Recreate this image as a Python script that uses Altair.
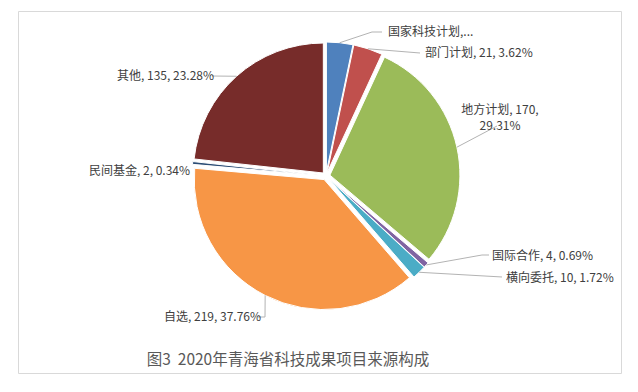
import altair as alt
import pandas as pd

# ---- data ----
categories = ["国家科技计划", "部门计划", "地方计划", "国际合作", "横向委托", "自选", "民间基金", "其他"]
values = [19, 21, 170, 4, 10, 219, 2, 135]
colors = ["#4F81BD", "#C0504D", "#9BBB59", "#8064A2", "#4BACC6", "#F79646", "#2C4D75", "#772C2A"]
title_text = "图3\u00a0\u00a02020年青海省科技成果项目来源构成"

# ---- layout (pixels, plot-area coordinates) ----
CX, CY = 308, 165      # pie centre
R = 130                # pie radius
E = 4                  # explode offset

# label layout relative to pie centre: text anchor, leader elbow, leader end, align
label_layout = {
    "国家科技计划": dict(t=(62, -144), el=(46, -144), en=(56, -144), align="left"),
    "部门计划": dict(t=(99, -123), el=(94, -123), en=(94, -123), align="left"),
    "地方计划": dict(t=(174, -66), el=(171, -50), en=(171, -50), align="center"),
    "国际合作": dict(t=(166, 80), el=(156, 79), en=(163, 79), align="left"),
    "横向委托": dict(t=(180, 102), el=(176, 101), en=(176, 101), align="left"),
    "自选": dict(t=(-162, 141), el=(-61, 141), en=(-68, 141), align="left"),
    "民间基金": dict(t=(-237, -5), el=None, en=None, align="left"),
    "其他": dict(t=(-209, -100), el=(-114, -100), en=(-114, -100), align="left"),
}

total = sum(values)
labels = []
for c, v in zip(categories, values):
    s = f"{c}, {v}, {v / total * 100:.2f}%"
    if c == "国家科技计划":
        s = f"{c},..."
    if c == "地方计划":
        s = f"{c}, {v},\n{v / total * 100:.2f}%"
    labels.append(s)

rows = []
for i, (c, v, lab) in enumerate(zip(categories, values, labels)):
    L = label_layout[c]
    el = L["el"] or (0, 0)
    en = L["en"] or (0, 0)
    rows.append(dict(
        cat=c, value=v, order=i, label=lab,
        tx=CX + L["t"][0], ty=CY + L["t"][1],
        ex=CX + el[0], ey=CY + el[1],
        nx=CX + en[0], ny=CY + en[1],
        lead=L["el"] is not None, align=L["align"],
    ))
df = pd.DataFrame(rows)

base = (
    alt.Chart(df)
    .transform_joinaggregate(total="sum(value)")
    .transform_window(cum="sum(value)", sort=[alt.SortField("order")], frame=[None, 0])
    .transform_calculate(
        t0="2*PI*(datum.cum - datum.value)/datum.total",
        t1="2*PI*datum.cum/datum.total",
    )
    .transform_calculate(mid="(datum.t0 + datum.t1)/2")
    .transform_calculate(
        px=f"{CX} + {E}*sin(datum.mid)",
        py=f"{CY} - {E}*cos(datum.mid)",
        ax=f"{CX} + {R + E}*sin(datum.mid)",
        ay=f"{CY} - {R + E}*cos(datum.mid)",
    )
)

pie = base.mark_arc(radius=R, stroke="white", strokeWidth=1).encode(
    theta=alt.Theta("t0:Q", scale=None, stack=None),
    theta2=alt.Theta2("t1"),
    x=alt.X("px:Q", scale=None, axis=None),
    y=alt.Y("py:Q", scale=None, axis=None),
    color=alt.Color("cat:N", scale=alt.Scale(domain=categories, range=colors), legend=None),
    order=alt.Order("order:Q"),
)

lead1 = base.transform_filter("datum.lead").mark_rule(color="#B3B3B3", strokeWidth=1).encode(
    x=alt.X("ax:Q", scale=None, axis=None),
    y=alt.Y("ay:Q", scale=None, axis=None),
    x2=alt.X2("ex"),
    y2=alt.Y2("ey"),
)
lead2 = base.transform_filter("datum.lead").mark_rule(color="#B3B3B3", strokeWidth=1).encode(
    x=alt.X("ex:Q", scale=None, axis=None),
    y=alt.Y("ey:Q", scale=None, axis=None),
    x2=alt.X2("nx"),
    y2=alt.Y2("ny"),
)

txt_style = dict(baseline="middle", fontSize=12, font="Noto Sans CJK SC", color="#404040",
                 lineBreak="\n", lineHeight=16)
text_left = base.transform_filter("datum.align == 'left'").mark_text(align="left", **txt_style).encode(
    x=alt.X("tx:Q", scale=None, axis=None),
    y=alt.Y("ty:Q", scale=None, axis=None),
    text="label:N",
)
text_center = base.transform_filter("datum.align == 'center'").mark_text(align="center", **txt_style).encode(
    x=alt.X("tx:Q", scale=None, axis=None),
    y=alt.Y("ty:Q", scale=None, axis=None),
    text="label:N",
)

title = alt.Chart(pd.DataFrame({"t": [title_text]})).mark_text(
    align="center", baseline="middle", fontSize=15.5, font="Noto Sans CJK SC", color="#595959"
).encode(x=alt.value(270), y=alt.value(349), text="t:N")

chart = (
    alt.layer(pie, lead1, lead2, text_left, text_center, title)
    .properties(
        width=603, height=362, autosize="none",
        padding={"left": 10, "top": 3, "right": 9, "bottom": 11},
        background="white",
    )
    .configure_view(stroke="#D9D9D9", strokeWidth=1)
)

chart.save("out.html", embed_options={"renderer": "svg", "actions": False})
